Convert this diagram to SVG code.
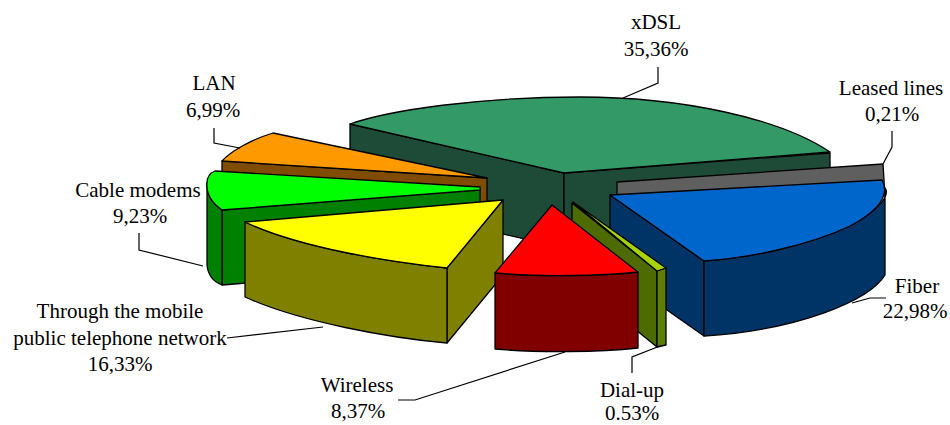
<svg xmlns="http://www.w3.org/2000/svg" width="950" height="425" viewBox="0 0 950 425">
<style>
.e{stroke:#000;stroke-width:1.3;stroke-linejoin:round}
.lbl{font-family:"Liberation Serif","Times New Roman",serif;font-size:21px;fill:#000;text-anchor:middle}
.ld{fill:none;stroke:#000;stroke-width:1.2}
</style>
<rect width="950" height="425" fill="#fff"/>
<g id="xdsl">
<polygon class="e" fill="#1e4b37" points="350,124 564,173 564,248 350,199"/>
<polygon class="e" fill="#1e4b37" points="564,173 830,153 830,228 564,248"/>
<path class="e" fill="#339966" d="M350,124 C390,110 480,97 580,97 C680,97 780,118 830,152 L564,173 Z"/>
</g>
<g id="leased">
<polygon class="e" fill="#5f5f5f" points="617,182 883,164 885,196 617,197"/>
</g>
<g id="lan">
<polygon class="e" fill="#7f4c00" points="222,161 487,178 487,253 222,236"/>
<path class="e" fill="#ff9900" d="M222,161 C230,152 250,140 273,133 L487,178 Z"/>
</g>
<g id="cable">
<polygon class="e" fill="#008000" points="222,210 480,189 480,264 222,285"/>
<path class="e" fill="#008000" d="M207,183 C206,195 212,203 222,210 L222,285 C214,282 208,275 207,265 Z"/>
<path class="e" fill="#00ff00" d="M215,171 L480,187 L480,190 L222,210 C212,203 206,195 207,183 C207,177 210,173 215,171 Z"/>
</g>
<g id="mobile">
<polygon class="e" fill="#808000" points="447,268 503,200 503,275 447,343"/>
<path class="e" fill="#808000" d="M245,222 C300,248 390,262 447,268 L447,343 C390,338 300,322 245,297 Z"/>
<path class="e" fill="#ffff00" d="M245,222 L503,200 L447,268 C390,262 300,248 245,222 Z"/>
</g>
<g id="fiber">
<polygon class="e" fill="#003366" points="610,195 704,261 704,336 610,270"/>
<path class="e" fill="#003366" d="M704,261 C750,258 810,245 850,226 C880,210 890,195 885,188 L885,275 C870,300 800,330 704,336 Z"/>
<path class="e" fill="#0066cc" d="M610,195 L882,180 C890,195 880,210 850,226 C810,245 750,258 704,261 Z"/>
</g>
<g id="dialup">
<polygon class="e" fill="#4d6b00" points="572,203 657,271 657,347 572,278"/>
<polygon class="e" fill="#5c7f00" points="657,271 666,268 666,345 657,347"/>
<polygon class="e" fill="#a6d400" points="573,202 666,268 657,271"/>
</g>
<g id="wireless">
<path class="e" fill="#800000" d="M495,273 C540,277 600,276 638,272 L638,348 C600,352 540,353 495,349 Z"/>
<path class="e" fill="#ff0000" d="M552,205 L638,272 C600,276 540,277 495,273 Z"/>
</g>
<g id="connectors">
<polyline class="ld" points="623,98 658,83 658,67"/>
<polyline class="ld" points="883,164 892,147 892,131"/>
<polyline class="ld" points="240,148 214,143 214,128"/>
<polyline class="ld" points="203,266 139,250 139,233"/>
<polyline class="ld" points="323,327 227,338"/>
<polyline class="ld" points="565,352 415,400 398,400"/>
<polyline class="ld" points="660,346 632,357 632,373"/>
<polyline class="ld" points="852,303 870,298 886,298"/>
</g>
<g id="labels">
<text class="lbl" x="656" y="29">xDSL</text>
<text class="lbl" x="656" y="56">35,36%</text>
<text class="lbl" x="891" y="95">Leased lines</text>
<text class="lbl" x="892" y="121">0,21%</text>
<text class="lbl" x="214" y="90">LAN</text>
<text class="lbl" x="213" y="117">6,99%</text>
<text class="lbl" x="138" y="197">Cable modems</text>
<text class="lbl" x="140" y="223">9,23%</text>
<text class="lbl" x="120" y="318">Through the mobile</text>
<text class="lbl" x="120" y="345">public telephone network</text>
<text class="lbl" x="120" y="371">16,33%</text>
<text class="lbl" x="357" y="392">Wireless</text>
<text class="lbl" x="358" y="418">8,37%</text>
<text class="lbl" x="632" y="397">Dial-up</text>
<text class="lbl" x="632" y="420">0.53%</text>
<text class="lbl" x="917" y="293">Fiber</text>
<text class="lbl" x="915" y="318">22,98%</text>
</g>
</svg>
